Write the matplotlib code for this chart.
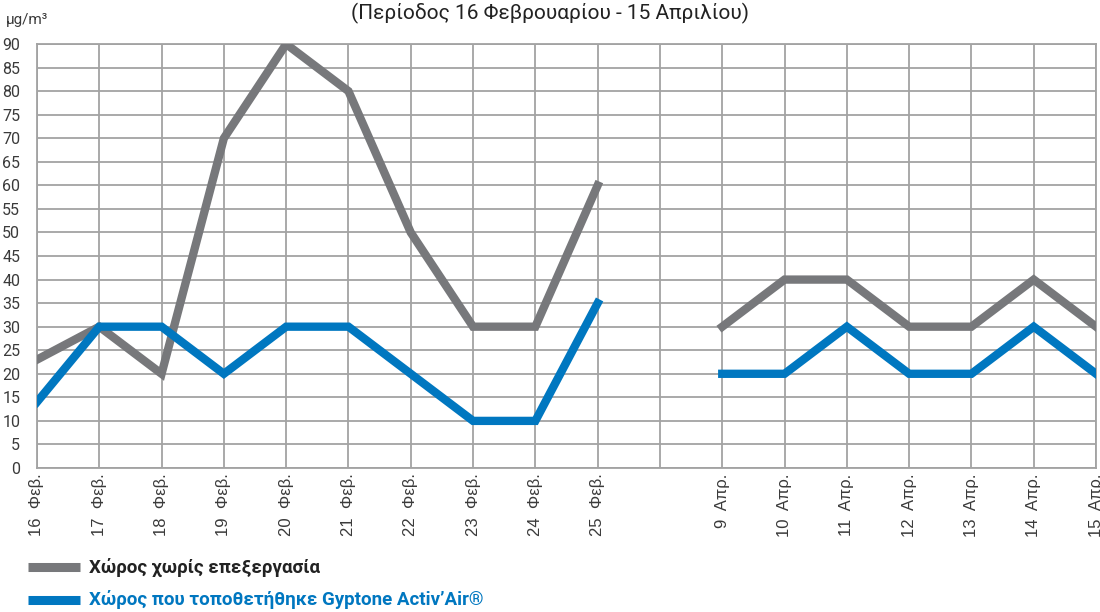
import matplotlib
matplotlib.use('Agg')
import matplotlib.pyplot as plt
import numpy as np

plt.rcParams['font.family'] = ['Roboto', 'DejaVu Sans']

# categories (empty slot between the two periods)
labels = ['16  Φεβ.', '17  Φεβ.', '18  Φεβ.', '19  Φεβ.', '20  Φεβ.', '21  Φεβ.',
          '22  Φεβ.', '23  Φεβ.', '24  Φεβ.', '25  Φεβ.', '',
          '9  Απρ.', '10  Απρ.', '11  Απρ.', '12  Απρ.', '13  Απρ.', '14  Απρ.', '15  Απρ.']
untreated = [23, 30, 20, 70, 90, 80, 50, 30, 30, 60, np.nan,
             30, 40, 40, 30, 30, 40, 30]
gyptone = [14, 30, 30, 20, 30, 30, 20, 10, 10, 35, np.nan,
           20, 20, 30, 20, 20, 30, 20]
yticks = list(range(0, 95, 5))

gray = '#77787b'
blue = '#0077c0'
gridc = '#a3a3a3'

fig = plt.figure(figsize=(11, 6.12), dpi=100)
ax = fig.add_axes([0.0336, 0.2353, 0.9628, 0.6927])

x = np.arange(len(labels))
ax.plot(x, untreated, color=gray, lw=6, solid_joinstyle='miter', zorder=3)
ax.plot(x, gyptone, color=blue, lw=6, solid_joinstyle='miter', zorder=4)

ax.set_xlim(0, len(labels) - 1)
ax.set_ylim(0, 90)
ax.set_yticks(yticks)
ax.set_yticklabels([str(v) for v in yticks], fontsize=11.5, color='#3a3a3a')
ax.set_xticks(x)
ax.set_xticklabels(labels, rotation=90, fontsize=12, color='#3a3a3a',
                   family=['Liberation Sans', 'DejaVu Sans'])
ax.tick_params(length=0, pad=4)
ax.tick_params(axis='y', pad=12)
ax.grid(True, color=gridc, lw=1.3, zorder=1)
for s in ax.spines.values():
    s.set_color(gridc)
    s.set_linewidth(1.3)

fig.text(0.005, 0.968, 'μg/m³', fontsize=11, color='#3a3a3a', va='center')
fig.text(0.5, 0.978, '(Περίοδος 16 Φεβρουαρίου - 15 Απριλίου)', fontsize=15,
         color='#222222', ha='center', va='center')

# legend
fig.add_artist(plt.Line2D([0.025, 0.073], [0.073, 0.073], color=gray, lw=6.5,
                          solid_capstyle='butt', transform=fig.transFigure))
fig.add_artist(plt.Line2D([0.025, 0.073], [0.02, 0.02], color=blue, lw=6.5,
                          solid_capstyle='butt', transform=fig.transFigure))
fig.text(0.081, 0.073, 'Χώρος χωρίς επεξεργασία', fontsize=13.5, fontweight='bold',
         color='#222222', va='center')
fig.text(0.081, 0.02, 'Χώρος που τοποθετήθηκε Gyptone Activ’Air®', fontsize=13.5,
         fontweight='bold', color=blue, va='center')

fig.savefig('out.png', dpi=100)
